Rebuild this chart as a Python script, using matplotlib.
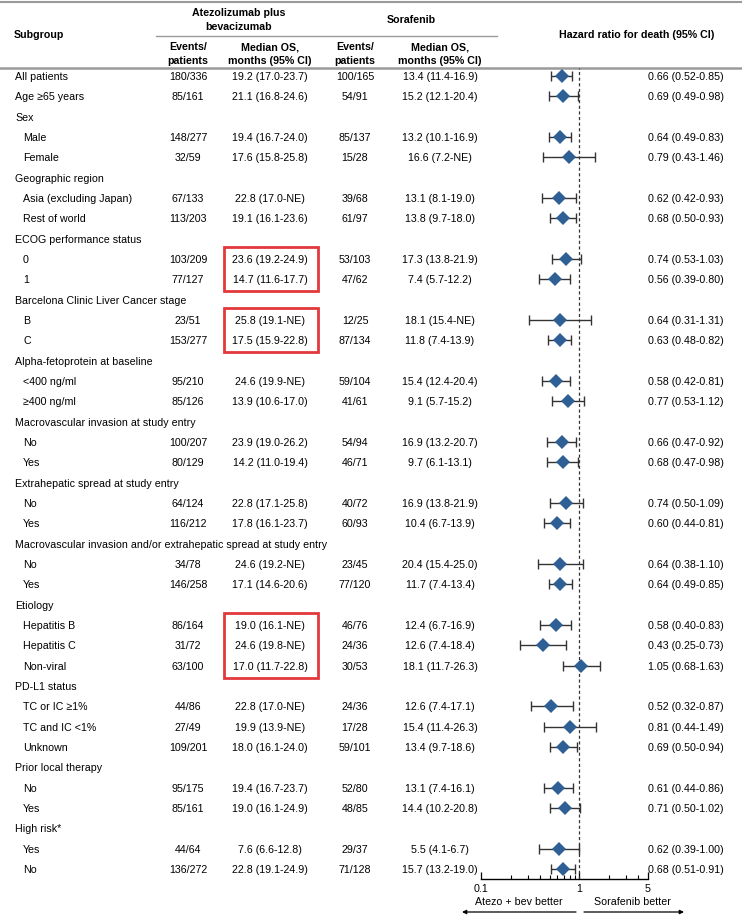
import matplotlib
matplotlib.use("Agg")
from matplotlib import pyplot as plt
from matplotlib.patches import Rectangle
from matplotlib.ticker import FixedLocator, NullFormatter

plt.rcParams['font.family'] = ['Liberation Sans', 'DejaVu Sans']

# rows of the table (heading rows have no data)
subgroups = ["All patients", "Age \u226565 years", "Sex", "Male", "Female",
             "Geographic region", "Asia (excluding Japan)", "Rest of world",
             "ECOG performance status", "0", "1",
             "Barcelona Clinic Liver Cancer stage", "B", "C",
             "Alpha-fetoprotein at baseline", "<400 ng/ml", "\u2265400 ng/ml",
             "Macrovascular invasion at study entry", "No", "Yes",
             "Extrahepatic spread at study entry", "No", "Yes",
             "Macrovascular invasion and/or extrahepatic spread at study entry", "No", "Yes",
             "Etiology", "Hepatitis B", "Hepatitis C", "Non-viral",
             "PD-L1 status", "TC or IC \u22651%", "TC and IC <1%", "Unknown",
             "Prior local therapy", "No", "Yes",
             "High risk*", "Yes", "No"]
indented = [False, False, False, True, True,
            False, True, True,
            False, True, True,
            False, True, True,
            False, True, True,
            False, True, True,
            False, True, True,
            False, True, True,
            False, True, True, True,
            False, True, True, True,
            False, True, True,
            False, True, True]

N = None
events_atezo = ["180/336", "85/161", N, "148/277", "32/59", N, "67/133", "113/203",
                N, "103/209", "77/127", N, "23/51", "153/277", N, "95/210", "85/126",
                N, "100/207", "80/129", N, "64/124", "116/212", N, "34/78", "146/258",
                N, "86/164", "31/72", "63/100", N, "44/86", "27/49", "109/201",
                N, "95/175", "85/161", N, "44/64", "136/272"]
os_atezo = ["19.2 (17.0-23.7)", "21.1 (16.8-24.6)", N, "19.4 (16.7-24.0)", "17.6 (15.8-25.8)",
            N, "22.8 (17.0-NE)", "19.1 (16.1-23.6)",
            N, "23.6 (19.2-24.9)", "14.7 (11.6-17.7)",
            N, "25.8 (19.1-NE)", "17.5 (15.9-22.8)",
            N, "24.6 (19.9-NE)", "13.9 (10.6-17.0)",
            N, "23.9 (19.0-26.2)", "14.2 (11.0-19.4)",
            N, "22.8 (17.1-25.8)", "17.8 (16.1-23.7)",
            N, "24.6 (19.2-NE)", "17.1 (14.6-20.6)",
            N, "19.0 (16.1-NE)", "24.6 (19.8-NE)", "17.0 (11.7-22.8)",
            N, "22.8 (17.0-NE)", "19.9 (13.9-NE)", "18.0 (16.1-24.0)",
            N, "19.4 (16.7-23.7)", "19.0 (16.1-24.9)",
            N, "7.6 (6.6-12.8)", "22.8 (19.1-24.9)"]
events_sora = ["100/165", "54/91", N, "85/137", "15/28", N, "39/68", "61/97",
               N, "53/103", "47/62", N, "12/25", "87/134", N, "59/104", "41/61",
               N, "54/94", "46/71", N, "40/72", "60/93", N, "23/45", "77/120",
               N, "46/76", "24/36", "30/53", N, "24/36", "17/28", "59/101",
               N, "52/80", "48/85", N, "29/37", "71/128"]
os_sora = ["13.4 (11.4-16.9)", "15.2 (12.1-20.4)", N, "13.2 (10.1-16.9)", "16.6 (7.2-NE)",
           N, "13.1 (8.1-19.0)", "13.8 (9.7-18.0)",
           N, "17.3 (13.8-21.9)", "7.4 (5.7-12.2)",
           N, "18.1 (15.4-NE)", "11.8 (7.4-13.9)",
           N, "15.4 (12.4-20.4)", "9.1 (5.7-15.2)",
           N, "16.9 (13.2-20.7)", "9.7 (6.1-13.1)",
           N, "16.9 (13.8-21.9)", "10.4 (6.7-13.9)",
           N, "20.4 (15.4-25.0)", "11.7 (7.4-13.4)",
           N, "12.4 (6.7-16.9)", "12.6 (7.4-18.4)", "18.1 (11.7-26.3)",
           N, "12.6 (7.4-17.1)", "15.4 (11.4-26.3)", "13.4 (9.7-18.6)",
           N, "13.1 (7.4-16.1)", "14.4 (10.2-20.8)",
           N, "5.5 (4.1-6.7)", "15.7 (13.2-19.0)"]
hr = [0.66, 0.69, N, 0.64, 0.79, N, 0.62, 0.68, N, 0.74, 0.56, N, 0.64, 0.63,
      N, 0.58, 0.77, N, 0.66, 0.68, N, 0.74, 0.60, N, 0.64, 0.64,
      N, 0.58, 0.43, 1.05, N, 0.52, 0.81, 0.69, N, 0.61, 0.71, N, 0.62, 0.68]
hr_lo = [0.52, 0.49, N, 0.49, 0.43, N, 0.42, 0.50, N, 0.53, 0.39, N, 0.31, 0.48,
         N, 0.42, 0.53, N, 0.47, 0.47, N, 0.50, 0.44, N, 0.38, 0.49,
         N, 0.40, 0.25, 0.68, N, 0.32, 0.44, 0.50, N, 0.44, 0.50, N, 0.39, 0.51]
hr_hi = [0.85, 0.98, N, 0.83, 1.46, N, 0.93, 0.93, N, 1.03, 0.80, N, 1.31, 0.82,
         N, 0.81, 1.12, N, 0.92, 0.98, N, 1.09, 0.81, N, 1.10, 0.85,
         N, 0.83, 0.73, 1.63, N, 0.87, 1.49, 0.94, N, 0.86, 1.02, N, 1.00, 0.91]

# rows whose atezo median OS is boxed in red
boxed = [(9, 10), (12, 13), (27, 29)]

W, H = 742, 920
ROW0, ROWH = 77, 20.33
FS = 7.7
GREY = '#9a9a9a'
BLUE = '#2e5f95'


def row_y(i):
    return ROW0 + i * ROWH


fig = plt.figure(figsize=(W / 100, H / 100), dpi=100)

# table layer in pixel units
tab = fig.add_axes([0, 0, 1, 1])
tab.set_xlim(0, W)
tab.set_ylim(H, 0)
tab.axis('off')

# header
tab.axhline(3, color=GREY, lw=1.5)
tab.axhline(69, color=GREY, lw=1.8)
tab.plot([156, 497], [37, 37], color=GREY, lw=1)
tab.text(14, 35, "Subgroup", fontsize=FS, fontweight='bold', va='center')
tab.text(239, 20, "Atezolizumab plus\nbevacizumab", fontsize=FS, fontweight='bold',
         ha='center', va='center', linespacing=1.4)
tab.text(411, 20, "Sorafenib", fontsize=FS, fontweight='bold', ha='center', va='center')
for cx, lab in [(188, "Events/\npatients"), (270, "Median OS,\nmonths (95% CI)"),
                (355, "Events/\npatients"), (440, "Median OS,\nmonths (95% CI)")]:
    tab.text(cx, 54, lab, fontsize=FS, fontweight='bold', ha='center', va='center',
             linespacing=1.4)
tab.text(637, 35, "Hazard ratio for death (95% CI)", fontsize=FS, fontweight='bold',
         ha='center', va='center')

# body
for i, name in enumerate(subgroups):
    y = row_y(i)
    tab.text(23 if indented[i] else 15, y, name, fontsize=FS, va='center')
    if hr[i] is None:
        continue
    tab.text(188, y, events_atezo[i], fontsize=FS, ha='center', va='center')
    tab.text(270, y, os_atezo[i], fontsize=FS, ha='center', va='center')
    tab.text(355, y, events_sora[i], fontsize=FS, ha='center', va='center')
    tab.text(440, y, os_sora[i], fontsize=FS, ha='center', va='center')
    tab.text(648, y, "%.2f (%.2f-%.2f)" % (hr[i], hr_lo[i], hr_hi[i]),
             fontsize=FS, va='center')

for a, b in boxed:
    y0 = row_y(a) - 12
    y1 = row_y(b) + 12
    tab.add_patch(Rectangle((224, y0), 94, y1 - y0, fill=False,
                            edgecolor='#e2383c', lw=2))

# forest plot
ax = fig.add_axes([481 / W, 1 - 880 / H, 167 / W, (880 - 69) / H])
ax.set_xscale('log')
ax.set_xlim(0.1, 5)
ax.set_ylim((880 - ROW0) / ROWH, (69 - ROW0) / ROWH)
ax.patch.set_alpha(0)
for s in ['top', 'right', 'left']:
    ax.spines[s].set_visible(False)
ax.spines['bottom'].set_linewidth(1)
ax.set_yticks([])
ax.xaxis.set_major_locator(FixedLocator([0.1, 1, 5]))
ax.xaxis.set_minor_locator(FixedLocator([0.2, 0.3, 0.4, 0.5, 0.6, 0.7, 0.8, 0.9, 2, 3, 4]))
ax.xaxis.set_minor_formatter(NullFormatter())
ax.set_xticklabels(["0.1", "1", "5"])
ax.tick_params(axis='x', which='major', direction='in', length=5, width=0.9,
               labelsize=FS, pad=3)
ax.tick_params(axis='x', which='minor', direction='in', length=3, width=0.8)
ax.axvline(1, color='#333333', lw=0.9, ls=(0, (2.5, 2)))

idx = [i for i in range(len(hr)) if hr[i] is not None]
xs = [hr[i] for i in idx]
err = [[hr[i] - hr_lo[i] for i in idx], [hr_hi[i] - hr[i] for i in idx]]
ax.errorbar(xs, idx, xerr=err, fmt='none', ecolor='#333333', elinewidth=1,
            capsize=3.5, capthick=1)
ax.plot(xs, idx, 'D', color=BLUE, markersize=7.5, markeredgewidth=0)

# direction arrows under the axis
tab.text(519, 902, "Atezo + bev better", fontsize=FS, ha='center', va='center')
tab.text(632, 902, "Sorafenib better", fontsize=FS, ha='center', va='center')
tab.annotate("", xy=(462, 913), xytext=(576, 913),
             arrowprops=dict(arrowstyle='-|>', lw=0.9, color='black', mutation_scale=6,
                             shrinkA=0, shrinkB=0))
tab.annotate("", xy=(684, 913), xytext=(584, 913),
             arrowprops=dict(arrowstyle='-|>', lw=0.9, color='black', mutation_scale=6,
                             shrinkA=0, shrinkB=0))

fig.savefig("out.png", dpi=100)
